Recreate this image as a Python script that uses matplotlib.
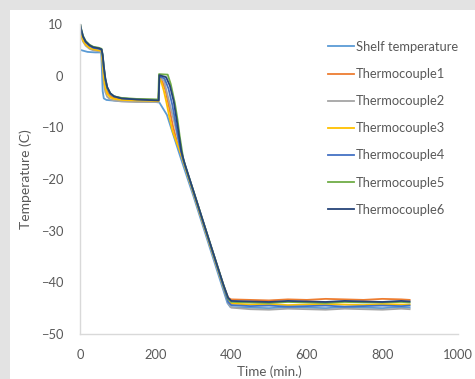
import numpy as np
from matplotlib import pyplot as plt
from matplotlib.patches import Rectangle

plt.rcParams['font.family'] = ['Lato', 'DejaVu Sans']

# shelf temperature (min, C)
shelf_t = [0, 20, 40, 56, 58, 60, 63, 70, 100, 150, 200, 210, 230, 265, 300,
           340, 390, 398, 450, 500, 550, 600, 650, 700, 750, 800, 850, 872]
shelf_T = [5.0, 4.6, 4.5, 4.5, 1.0, -3.0, -4.4, -4.7, -4.9, -5.0, -5.1, -5.2,
           -7.6, -15.6, -23.3, -32.5, -44.0, -44.8, -44.9, -45.0, -44.8,
           -44.9, -45.0, -44.8, -44.9, -45.0, -44.8, -44.9]

# thermocouple readings
tc1_t = [0, 3, 8, 15, 25, 35, 50, 57, 60, 63, 67, 72, 80, 90, 110, 150, 208,
         210, 216, 226, 236, 246, 256, 266, 280, 300, 340, 380, 392, 400,
         450, 500, 550, 600, 650, 700, 750, 800, 850, 872]
tc1_T = [9.6, 8.6, 7.3, 6.4, 5.8, 5.4, 5.2, 5.0, 3.0, 0.3, -1.8, -3.1, -3.9,
         -4.3, -4.5, -4.6, -4.7, -0.2, -0.7, -2.8, -6.2, -9.8, -12.6, -14.9,
         -18.0, -22.4, -31.6, -40.7, -43.0, -43.3, -43.4, -43.5, -43.3, -43.4,
         -43.2, -43.3, -43.4, -43.2, -43.3, -43.4]

tc2_t = [0, 3, 8, 15, 25, 35, 50, 57, 60, 63, 67, 72, 80, 90, 110, 150, 208,
         210, 222, 250, 272, 300, 340, 380, 392, 400, 450, 500, 550, 600,
         650, 700, 750, 800, 850, 872]
tc2_T = [8.4, 7.6, 6.6, 5.8, 5.2, 4.9, 4.7, 4.6, 1.5, -1.5, -3.2, -4.1, -4.6,
         -4.8, -5.0, -5.1, -5.1, -0.6, -0.9, -9.2, -16.4, -22.9, -32.1, -41.2,
         -44.0, -44.9, -45.2, -45.3, -45.1, -45.2, -45.3, -45.1, -45.2, -45.3,
         -45.1, -45.2]

tc3_t = [0, 3, 8, 15, 25, 35, 50, 57, 60, 63, 67, 72, 80, 90, 110, 150, 208,
         210, 215, 222, 229, 237, 245, 255, 265, 280, 300, 340, 380, 392, 400,
         450, 500, 550, 600, 650, 700, 750, 800, 850, 872]
tc3_T = [9.0, 8.0, 6.8, 6.0, 5.4, 5.1, 4.9, 4.8, 2.5, -0.5, -2.4, -3.5, -4.2,
         -4.5, -4.7, -4.8, -4.9, -0.4, -1.2, -3.0, -5.3, -8.2, -10.8, -12.8,
         -14.7, -18.1, -22.6, -31.8, -40.9, -43.6, -44.1, -44.3, -44.2, -44.4,
         -44.3, -44.2, -44.3, -44.4, -44.2, -44.3, -44.3]

tc4_t = [0, 3, 8, 15, 25, 35, 50, 57, 60, 63, 67, 72, 80, 90, 110, 150, 208,
         210, 224, 234, 244, 254, 264, 272, 300, 340, 380, 392, 400, 450, 500,
         550, 600, 650, 700, 750, 800, 850, 872]
tc4_T = [9.9, 8.8, 7.5, 6.5, 5.8, 5.4, 5.2, 5.0, 3.8, 1.5, -0.8, -2.4, -3.5,
         -4.0, -4.4, -4.6, -4.7, -0.1, -0.6, -2.5, -5.6, -9.6, -13.7, -16.0,
         -22.4, -31.6, -40.8, -43.8, -44.4, -44.6, -44.5, -44.7, -44.6, -44.5,
         -44.7, -44.6, -44.5, -44.6, -44.5]

tc5_t = [0, 3, 8, 15, 25, 35, 50, 57, 60, 63, 67, 72, 80, 90, 110, 150, 207,
         209, 232, 240, 251, 258, 264, 273, 280, 300, 340, 380, 392, 400, 450,
         500, 550, 600, 650, 700, 750, 800, 850, 872]
tc5_T = [10.2, 9.1, 7.7, 6.7, 6.0, 5.6, 5.4, 5.2, 4.0, 1.7, -0.6, -2.3, -3.4,
         -4.0, -4.3, -4.5, -4.6, 0.3, 0.2, -1.6, -5.3, -8.5, -11.8, -16.0,
         -17.8, -22.3, -31.5, -40.6, -43.2, -43.8, -43.9, -44.0, -43.8, -43.9,
         -44.0, -43.8, -43.9, -43.9, -43.8, -43.9]

tc6_t = [0, 3, 8, 15, 25, 35, 50, 57, 60, 63, 67, 72, 80, 90, 110, 150, 208,
         210, 228, 238, 248, 258, 268, 276, 300, 340, 380, 392, 400, 450, 500,
         550, 600, 650, 700, 750, 800, 850, 872]
tc6_T = [10.2, 9.0, 7.6, 6.6, 5.9, 5.5, 5.3, 5.1, 4.0, 1.8, -0.5, -2.2, -3.4,
         -4.0, -4.4, -4.6, -4.8, 0.1, -0.3, -2.0, -5.0, -9.6, -14.6, -16.8,
         -22.3, -31.5, -40.6, -43.0, -43.6, -43.7, -43.8, -43.6, -43.7, -43.8,
         -43.6, -43.7, -43.8, -43.6, -43.7]

labels = ['Shelf temperature', 'Thermocouple1', 'Thermocouple2',
          'Thermocouple3', 'Thermocouple4', 'Thermocouple5', 'Thermocouple6']
colors = ['#5B9BD5', '#ED7D31', '#A5A5A5', '#FFC000', '#4472C4', '#70AD47',
          '#264478']

fig = plt.figure(figsize=(4.75, 3.79), dpi=100, facecolor='#e3e3e3')
fig.patches.append(Rectangle((10 / 475, 0), 1, 1 - 10 / 379,
                             transform=fig.transFigure, facecolor='white',
                             edgecolor='none', zorder=-10))
ax = fig.add_axes([80 / 475, 1 - 334 / 379, 378 / 475, 310 / 379])
ax.set_facecolor('none')

series = [(shelf_t, shelf_T), (tc1_t, tc1_T), (tc2_t, tc2_T), (tc3_t, tc3_T),
          (tc4_t, tc4_T), (tc5_t, tc5_T), (tc6_t, tc6_T)]
for (t, T), lab, c in zip(series, labels, colors):
    ax.plot(t, T, color=c, lw=1.3, label=lab)

ax.set_xlim(0, 1000)
ax.set_ylim(-50, 10)
ax.set_xticks(np.arange(0, 1001, 200))
ax.set_yticks(np.arange(-50, 11, 10))
for s in ['top', 'right']:
    ax.spines[s].set_visible(False)
for s in ['left', 'bottom']:
    ax.spines[s].set_color('#d9d9d9')
    ax.spines[s].set_linewidth(1.0)
ax.tick_params(length=0, labelsize=9.3, colors='#595959')
ax.tick_params(axis='y', pad=12)
ax.tick_params(axis='x', pad=11)
ax.set_xlabel('Time (min.)', fontsize=9.6, color='#595959', labelpad=3)
ax.set_ylabel('Temperature (C)', fontsize=10, color='#595959', labelpad=6)

ax.legend(loc='upper left', bbox_to_anchor=(328 / 475, 1 - 41 / 379),
          bbox_transform=fig.transFigure, frameon=False, fontsize=9.3,
          handlelength=2.0, handletextpad=0.15, labelspacing=1.17,
          borderpad=0, borderaxespad=0, labelcolor='#595959')

fig.savefig('out.png', dpi=100, facecolor=fig.get_facecolor())
